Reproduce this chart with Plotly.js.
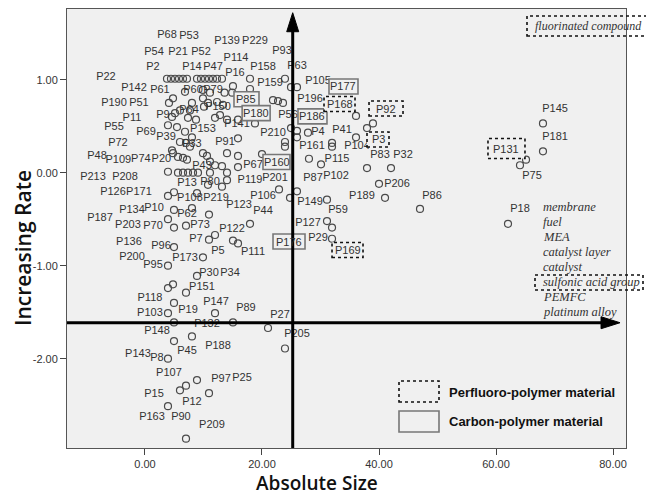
<!DOCTYPE html>
<html><head><meta charset="utf-8">
<script src="https://cdn.plot.ly/plotly-3.0.1.min.js"></script>
<style>html,body{margin:0;padding:0;background:#fff}#chart{width:646px;height:495px}</style>
</head><body><div id="chart"></div>
<script>
// ---- data ----
const pointX = [3.76,4.44,5.13,5.81,6.50,7.18,8.89,9.57,10.26,10.94,11.62,12.31,13.16,17.95,23.93,
15.04,17.95,6.84,9.91,11.11,13.6,14.9,4.79,4.10,8.03,9.91,10.77,12.31,13.33,21.88,22.74,23.59,24.96,25.98,
5.98,5.13,4.62,7.69,10.09,7.35,8.72,11.97,12.82,14.02,15.90,18.80,3.93,5.47,6.84,8.03,5.98,7.01,7.69,15.90,
23.93,23.93,4.62,4.79,5.64,6.50,7.18,9.91,10.60,11.11,14.02,15.90,20.00,11.97,13.16,15.90,14.02,14.02,
3.93,5.64,6.50,7.35,8.21,9.06,11.11,13.16,10.77,4.96,3.93,8.89,22.91,24.79,4.96,8.03,10.94,3.93,4.96,7.01,
17.95,11.97,10.94,15.04,15.90,4.96,9.91,3.93,8.89,4.79,3.93,7.01,4.96,3.93,11.97,4.96,15.04,21.03,8.03,4.96,
23.93,3.93,8.89,7.01,5.98,10.94,3.93,7.01,
27.86,25.98,25.98,24.96,31.97,31.97,36.07,38.97,37.95,36.07,28.03,30.09,37.95,42.05,40.00,41.03,47.01,25.98,
31.11,31.11,31.97,31.97,68.03,68.03,65.13,64.10,62.05];
const pointY = [1.01,1.01,1.01,1.01,1.01,1.01,1.01,1.01,1.01,1.01,1.01,1.01,1.01,1.01,1.01,
0.93,0.90,0.87,0.89,0.86,0.86,0.86,0.80,0.75,0.75,0.80,0.75,0.76,0.73,0.78,0.77,0.75,0.92,0.92,
0.67,0.64,0.60,0.67,0.71,0.59,0.57,0.59,0.62,0.57,0.57,0.53,0.51,0.49,0.44,0.38,0.33,0.32,0.28,0.37,
0.33,0.28,0.24,0.21,0.17,0.16,0.14,0.21,0.18,0.12,0.21,0.18,0.20,0.08,0.07,0.06,0.00,-0.08,
0.01,0.00,0.00,0.00,0.00,0.00,0.00,-0.15,-0.13,-0.21,-0.25,-0.22,-0.18,-0.27,-0.40,-0.38,-0.45,-0.50,-0.59,-0.57,
-0.55,-0.67,-0.72,-0.73,-0.76,-0.80,-0.91,-1.00,-1.11,-1.20,-1.24,-1.29,-1.40,-1.51,-1.51,-1.61,-1.61,-1.67,-1.76,-1.81,
-1.89,-2.00,-2.23,-2.29,-2.34,-2.37,-2.51,-2.86,
0.43,0.45,0.38,0.48,0.32,0.28,0.61,0.53,0.48,0.38,0.15,0.09,0.05,0.05,-0.12,-0.27,-0.39,-0.20,
-0.29,-0.52,-0.59,-0.71,0.53,0.23,0.14,0.08,-0.55];

const labelNames = ['P68','P53','P139','P229','P93','P54','P21','P52','P114','P2','P14','P47','P16','P158','P22',
'P142','P61','P60','P79','P159','P190','P51','P9','P64','P150','P11','P55','P69','P39','P153','P141','P210','P72',
'P33','P91','P48','P109','P74','P20','P43','P67','P213','P208','P119','P201','P126','P171','P13','P80','P106',
'P108','P219','P123','P44','P134','P10','P62','P187','P203','P70','P73','P122','P136','P96','P7','P5','P111',
'P200','P95','P173','P30','P34','P151','P118','P19','P147','P89','P27','P103','P132','P148','P205','P45','P188',
'P143','P8','P107','P97','P25','P15','P12','P163','P90','P209','P63','P105','P196','P56','P4','P41','P161',
'P104','P83','P32','P87','P102','P115','P206','P189','P86','P149','P59','P127','P29','P145','P181','P75','P18'];
const labelX = [3.76,7.52,14.02,18.80,23.42,1.54,5.64,9.57,15.56,1.37,8.03,11.62,15.38,20.17,-6.67,
-1.88,2.56,8.21,11.62,21.37,-5.30,-1.03,3.08,7.52,12.48,-2.22,-5.30,0.17,3.59,9.91,15.73,21.88,-4.62,
8.03,13.68,-8.20,-4.55,-0.70,2.80,9.74,18.46,-8.89,-3.42,17.95,22.22,-5.47,-1.03,7.18,11.11,20.17,
7.69,12.14,16.07,20.17,-2.22,1.54,7.18,-7.69,-2.91,1.37,9.40,14.87,-2.74,2.74,8.72,12.48,18.46,
-2.22,1.37,6.84,10.94,14.53,9.74,0.85,7.35,12.14,17.26,23.08,0.85,10.60,2.05,25.98,7.18,12.48,
-1.20,2.05,4.10,12.99,16.58,1.54,8.03,1.20,6.15,11.45,25.98,29.57,28.21,24.44,29.57,33.68,28.55,
36.24,40.17,44.10,28.72,32.65,32.82,43.08,37.09,49.06,28.21,32.99,27.86,29.57,70.09,70.09,66.15,64.10];
const labelY = [1.48,1.47,1.41,1.41,1.31,1.30,1.29,1.30,1.23,1.13,1.13,1.13,1.07,1.13,1.03,
0.91,0.89,0.89,0.89,0.96,0.75,0.75,0.62,0.67,0.70,0.59,0.49,0.43,0.38,0.47,0.52,0.42,0.32,
0.31,0.33,0.18,0.13,0.14,0.14,0.07,0.08,-0.05,-0.05,-0.08,-0.06,-0.21,-0.21,-0.11,-0.10,-0.25,
-0.28,-0.28,-0.35,-0.41,-0.40,-0.38,-0.45,-0.49,-0.57,-0.58,-0.57,-0.61,-0.75,-0.79,-0.72,-0.84,-0.86,
-0.91,-1.00,-0.92,-1.08,-1.08,-1.23,-1.35,-1.48,-1.39,-1.46,-1.53,-1.51,-1.63,-1.71,-1.74,-1.92,-1.87,
-1.95,-1.99,-2.16,-2.22,-2.21,-2.38,-2.47,-2.63,-2.63,-2.72,1.14,0.98,0.79,0.62,0.44,0.46,0.28,
0.28,0.19,0.19,-0.06,-0.04,0.14,-0.12,-0.25,-0.25,-0.32,-0.40,-0.54,-0.71,0.68,0.38,-0.04,-0.39];

const carbonNames = ['P85','P180','P160','P176','P177','P186'];
const carbonX = [17.35,19.00,22.48,24.62,33.93,28.63];
const carbonY = [0.79,0.64,0.115,-0.74,0.927,0.605];
const perfluoroNames = ['P168','P92','P3','P169','P131'];
const perfluoroX = [33.25,41.20,39.83,34.62,61.79];
const perfluoroY = [0.739,0.69,0.357,-0.831,0.26];

const keywords = ['membrane','fuel','MEA','catalyst layer','catalyst','sulfonic acid group','PEMFC','platinum alloy'];
const xTickVals = [0,20,40,60,80];
const xTickText = ['0.00','20.00','40.00','60.00','80.00'];
const yTickVals = [1,0,-1,-2];
const yTickText = ['1.00','0.00','-1.00','-2.00'];
const arrowX = 25.25;   // vertical axis divider (Absolute Size)
const arrowY = -1.613;  // horizontal axis divider (Increasing Rate)

// ---- layout helpers ----
const L = 67, T = 9, W = 559, H = 439;
const XR = [-13.33, 82.22], YR = [-2.96, 1.76];
const pxX = p => (p - L) / W;
const pxY = p => (T + H - p) / H;
const labelFont = {family: 'Liberation Sans, Arial, sans-serif', size: 11, color: '#333'};
const boxW = {P85:25,P180:28,P160:27,P176:32,P177:29,P186:29,P168:31,P92:34,P3:22,P169:31,P131:37};
const boxH = {P131:20};

const shapes = [];
const annotations = [];

// boxed labels
function addBox(name, x, y, dash, color) {
  const w = boxW[name], h = boxH[name] || 15;
  shapes.push({type:'rect', layer:'above', xref:'x', yref:'y', xsizemode:'pixel', ysizemode:'pixel',
    xanchor:x, yanchor:y, x0:-w/2, x1:w/2, y0:-h/2, y1:h/2,
    fillcolor:'#f0f0f0', line:{color:color, width:1.6, dash:dash}});
  annotations.push({x:x, y:y, xref:'x', yref:'y', text:name, showarrow:false, font:labelFont,
    xanchor:'center', yanchor:'middle'});
}
carbonNames.forEach((n,i)=>addBox(n, carbonX[i], carbonY[i], 'solid', '#777'));
perfluoroNames.forEach((n,i)=>addBox(n, perfluoroX[i], perfluoroY[i], 'dot', '#111'));

// divider arrows
shapes.push({type:'line', layer:'above', xref:'x', yref:'y', x0:arrowX, x1:arrowX, y0:YR[0], y1:1.55,
  line:{color:'#000', width:3}});
shapes.push({type:'path', layer:'above', xref:'x', yref:'y', xsizemode:'pixel', ysizemode:'pixel',
  xanchor:arrowX, yanchor:1.72, path:'M0,0 L-6,-19 L6,-19 Z', fillcolor:'#000', line:{color:'#000', width:1}});
shapes.push({type:'line', layer:'above', xref:'x', yref:'y', x0:XR[0], x1:78.5, y0:arrowY, y1:arrowY,
  line:{color:'#000', width:3}});
shapes.push({type:'path', layer:'above', xref:'x', yref:'y', xsizemode:'pixel', ysizemode:'pixel',
  xanchor:81.2, yanchor:arrowY, path:'M0,0 L-19,6 L-19,-6 Z', fillcolor:'#000', line:{color:'#000', width:1}});

// keyword list
const kwFont = {family:'Liberation Serif, Times New Roman, serif', size:12.5, color:'#333', style:'italic'};
keywords.forEach((k,i)=>{
  annotations.push({xref:'paper', yref:'paper', x:pxX(541), y:pxY(207 + 15*i), text:k, showarrow:false,
    xanchor:'left', yanchor:'middle', font:kwFont});
});
shapes.push({type:'rect', xref:'paper', yref:'paper', x0:pxX(535), x1:pxX(643), y0:pxY(290), y1:pxY(275),
  line:{color:'#111', width:1.6, dash:'dot'}});
annotations.push({xref:'paper', yref:'paper', x:pxX(533), y:pxY(26), text:'fluorinated compound', showarrow:false,
  xanchor:'left', yanchor:'middle', font:Object.assign({}, kwFont, {size:12})});
shapes.push({type:'rect', xref:'paper', yref:'paper', x0:pxX(527), x1:pxX(652), y0:pxY(36), y1:pxY(16),
  line:{color:'#111', width:1.6, dash:'dot'}});

// legend
shapes.push({type:'rect', xref:'paper', yref:'paper', x0:pxX(399), x1:pxX(439), y0:pxY(402), y1:pxY(381),
  line:{color:'#111', width:1.6, dash:'dot'}});
shapes.push({type:'rect', xref:'paper', yref:'paper', x0:pxX(399), x1:pxX(439), y0:pxY(432), y1:pxY(411),
  line:{color:'#777', width:1.6}});
const legFont = {family:'Liberation Sans, Arial, sans-serif', size:13, color:'#111', weight:'bold'};
annotations.push({xref:'paper', yref:'paper', x:pxX(447), y:pxY(392), text:'Perfluoro-polymer material',
  showarrow:false, xanchor:'left', yanchor:'middle', font:legFont});
annotations.push({xref:'paper', yref:'paper', x:pxX(447), y:pxY(421), text:'Carbon-polymer material',
  showarrow:false, xanchor:'left', yanchor:'middle', font:legFont});

// axis titles
const titleFont = {family:'Open Sans, DejaVu Sans, sans-serif', size:19, color:'#111', weight:600};
annotations.push({xref:'paper', yref:'paper', x:pxX(317), y:pxY(483), text:'Absolute Size', showarrow:false,
  xanchor:'center', yanchor:'middle', font:titleFont});
annotations.push({xref:'paper', yref:'paper', x:pxX(23), y:pxY(248), text:'Increasing Rate', showarrow:false,
  textangle:-90, xanchor:'center', yanchor:'middle', font:Object.assign({}, titleFont, {size:21})});

const traces = [
  {type:'scatter', mode:'markers', x:pointX, y:pointY, hoverinfo:'skip',
   marker:{symbol:'circle-open', size:7, color:'#4a4a4a', line:{width:1.2}}},
  {type:'scatter', mode:'text', x:labelX, y:labelY, text:labelNames, textposition:'middle center',
   textfont:labelFont, hoverinfo:'skip'}
];

const axisCommon = {showgrid:false, zeroline:false, showline:true, mirror:true, linecolor:'#555', linewidth:1,
  ticks:'outside', ticklen:6, tickcolor:'#444', tickfont:{family:'Liberation Sans, Arial, sans-serif', size:11, color:'#333'},
  tickmode:'array', fixedrange:true};

const layout = {
  width:646, height:495, margin:{l:L, r:646-L-W, t:T, b:495-T-H},
  paper_bgcolor:'#ffffff', plot_bgcolor:'#f0f0f0', showlegend:false,
  xaxis:Object.assign({}, axisCommon, {range:XR, tickvals:xTickVals, ticktext:xTickText}),
  yaxis:Object.assign({}, axisCommon, {range:YR, tickvals:yTickVals, ticktext:yTickText}),
  shapes:shapes, annotations:annotations
};
Plotly.newPlot('chart', traces, layout, {staticPlot:true, displayModeBar:false});
</script></body></html>
